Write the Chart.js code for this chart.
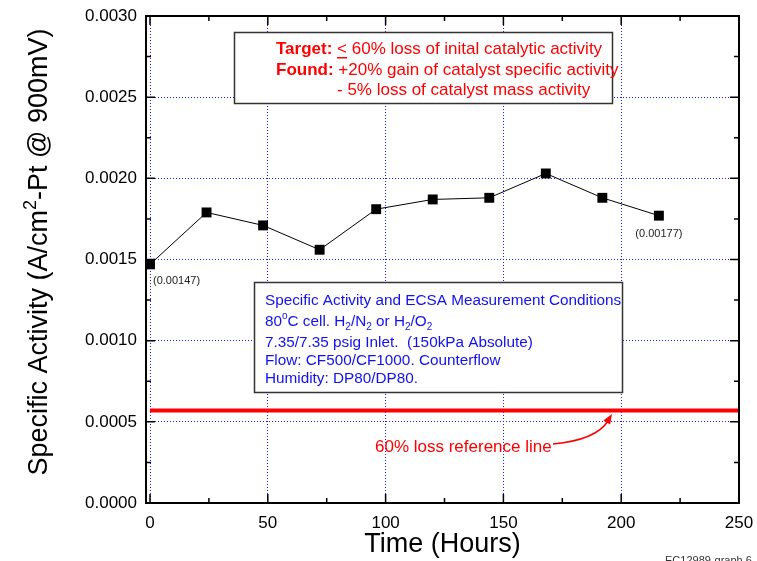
<!DOCTYPE html>
<html>
<head>
<meta charset="utf-8">
<script src="https://cdn.jsdelivr.net/npm/chart.js@4.4.0/dist/chart.umd.min.js"></script>
<style>
body { margin: 0; background: #fff; }
</style>
</head>
<body>
<canvas id="chartActivity" width="757" height="561"></canvas>
<script>
var hours = [0, 24, 48, 72, 96, 120, 144, 168, 192, 216];
var activity = [0.00147, 0.00179, 0.00171, 0.00156, 0.00181, 0.00187, 0.00188, 0.00203, 0.00188, 0.00177];
var refHours = [0, 250];
var refLevel = 0.00057;
var xTicks = [0, 50, 100, 150, 200, 250];
var yTicks = [0, 0.0005, 0.0010, 0.0015, 0.0020, 0.0025, 0.0030];
var labelIndex = [0, 9];
var labelText = ['(0.00147)', '(0.00177)'];

var FONT = '"Liberation Sans", Arial, Helvetica, sans-serif';
Chart.defaults.font.family = FONT;
Chart.defaults.color = '#000';

function font(size, bold) {
    return (bold ? 'bold ' : '') + size + 'px ' + FONT;
}

// draws a line of text made of several runs (bold, sub/superscript, underline)
function drawRuns(ctx, x, y, parts, size) {
    parts.forEach(function (p) {
        if (typeof p === 'string') p = { t: p };
        ctx.font = font(p.size || size, p.bold);
        var w = ctx.measureText(p.t).width;
        ctx.fillText(p.t, x, y + (p.dy || 0));
        if (p.u) {
            ctx.fillRect(x, y + 8, w, 1.5);
        }
        x += w;
    });
    return x;
}

function runsWidth(ctx, parts, size) {
    var w = 0;
    parts.forEach(function (p) {
        if (typeof p === 'string') p = { t: p };
        ctx.font = font(p.size || size, p.bold);
        w += ctx.measureText(p.t).width;
    });
    return w;
}

// box frame and inward ticks on all four sides
var framePlugin = {
    id: 'frame',
    afterDatasetsDraw: function (chart) {
        var ctx = chart.ctx, a = chart.chartArea;
        var sx = chart.scales.x, sy = chart.scales.y;
        ctx.save();
        ctx.strokeStyle = '#000';
        ctx.lineWidth = 2;
        ctx.strokeRect(a.left, a.top, a.right - a.left, a.bottom - a.top);
        ctx.lineWidth = 1.5;
        ctx.beginPath();
        xTicks.forEach(function (v, i) {
            var px = sx.getPixelForValue(v);
            ctx.moveTo(px, a.bottom); ctx.lineTo(px, a.bottom - 9);
            ctx.moveTo(px, a.top); ctx.lineTo(px, a.top + 9);
            if (i < xTicks.length - 1) {
                var mx = sx.getPixelForValue((v + xTicks[i + 1]) / 2);
                ctx.moveTo(mx, a.bottom); ctx.lineTo(mx, a.bottom - 5);
                ctx.moveTo(mx, a.top); ctx.lineTo(mx, a.top + 5);
            }
        });
        yTicks.forEach(function (v, i) {
            var py = sy.getPixelForValue(v);
            ctx.moveTo(a.left, py); ctx.lineTo(a.left + 9, py);
            ctx.moveTo(a.right, py); ctx.lineTo(a.right - 9, py);
            if (i < yTicks.length - 1) {
                var my = sy.getPixelForValue((v + yTicks[i + 1]) / 2);
                ctx.moveTo(a.left, my); ctx.lineTo(a.left + 5, my);
                ctx.moveTo(a.right, my); ctx.lineTo(a.right - 5, my);
            }
        });
        ctx.stroke();
        ctx.restore();
    }
};

// text boxes, point labels, arrow, y title and footnote
var notesPlugin = {
    id: 'notes',
    afterDraw: function (chart) {
        var ctx = chart.ctx;
        ctx.save();
        ctx.textBaseline = 'middle';
        ctx.textAlign = 'left';

        // y axis title, rotated, with superscript
        var yTitle = ['Specific Activity (A/cm', { t: '2', size: 18, dy: -9 }, '-Pt @ 900mV)'];
        ctx.save();
        ctx.translate(40, 252);
        ctx.rotate(-Math.PI / 2);
        ctx.fillStyle = '#000';
        drawRuns(ctx, -runsWidth(ctx, yTitle, 27) / 2, 0, yTitle, 27);
        ctx.restore();

        // point value labels
        var meta = chart.getDatasetMeta(0);
        ctx.fillStyle = '#222';
        ctx.font = font(11);
        labelIndex.forEach(function (idx, k) {
            var pt = meta.data[idx];
            if (k === 0) {
                ctx.textAlign = 'left';
                ctx.fillText(labelText[k], pt.x + 3, pt.y + 17);
            } else {
                ctx.textAlign = 'center';
                ctx.fillText(labelText[k], pt.x, pt.y + 18);
            }
        });
        ctx.textAlign = 'left';

        // target / found box
        ctx.fillStyle = '#fff';
        ctx.fillRect(234.5, 32.5, 378, 71);
        ctx.strokeStyle = '#333';
        ctx.lineWidth = 1.5;
        ctx.strokeRect(234.5, 32.5, 378, 71);
        ctx.fillStyle = '#ff0000';
        drawRuns(ctx, 276, 49, [{ t: 'Target:', bold: true }, ' ', { t: '<', u: true }, ' 60% loss of inital catalytic activity'], 17);
        drawRuns(ctx, 276, 70, [{ t: 'Found:', bold: true }, ' +20% gain of catalyst specific activity'], 17);
        drawRuns(ctx, 337, 90, ['- 5% loss of catalyst mass activity'], 17);

        // measurement conditions box
        ctx.fillStyle = '#fff';
        ctx.fillRect(254.5, 282.5, 368, 110);
        ctx.strokeStyle = '#333';
        ctx.strokeRect(254.5, 282.5, 368, 110);
        ctx.fillStyle = '#1010f0';
        drawRuns(ctx, 265, 301, ['Specific Activity and ECSA Measurement Conditions'], 15.3);
        drawRuns(ctx, 265, 322, ['80', { t: 'o', size: 10, dy: -6 }, 'C cell. H', { t: '2', size: 10, dy: 5 }, '/N', { t: '2', size: 10, dy: 5 },
            ' or H', { t: '2', size: 10, dy: 5 }, '/O', { t: '2', size: 10, dy: 5 }], 15.3);
        drawRuns(ctx, 265, 343, ['7.35/7.35 psig Inlet.  (150kPa Absolute)'], 15.3);
        drawRuns(ctx, 265, 361, ['Flow: CF500/CF1000. Counterflow'], 15.3);
        drawRuns(ctx, 265, 379, ['Humidity: DP80/DP80.'], 15.3);

        // reference line note with curved arrow
        ctx.fillStyle = '#ff0000';
        ctx.font = font(17);
        ctx.fillText('60% loss reference line', 375, 447);
        ctx.strokeStyle = '#ff0000';
        ctx.lineWidth = 1.5;
        ctx.beginPath();
        ctx.moveTo(553, 444);
        ctx.quadraticCurveTo(596, 440, 608, 421);
        ctx.stroke();
        var tipX = 612, tipY = 414;
        var ang = Math.atan2(-21, 13);
        ctx.beginPath();
        ctx.moveTo(tipX, tipY);
        ctx.lineTo(tipX - 10 * Math.cos(ang) + 4 * Math.sin(ang), tipY - 10 * Math.sin(ang) - 4 * Math.cos(ang));
        ctx.lineTo(tipX - 10 * Math.cos(ang) - 4 * Math.sin(ang), tipY - 10 * Math.sin(ang) + 4 * Math.cos(ang));
        ctx.closePath();
        ctx.fill();

        // footnote
        ctx.fillStyle = '#333';
        ctx.font = font(11);
        ctx.textBaseline = 'alphabetic';
        ctx.fillText('EC12989-graph 6', 665, 564);
        ctx.restore();
    }
};

var chartActivity = new Chart(document.getElementById('chartActivity'), {
    type: 'line',
    data: {
        datasets: [{
            label: 'Specific Activity',
            data: hours.map(function (h, i) { return { x: h, y: activity[i] }; }),
            borderColor: '#000',
            borderWidth: 1,
            backgroundColor: '#000',
            pointStyle: 'rect',
            pointRadius: 7,
            pointBorderWidth: 0,
            tension: 0
        }, {
            label: '60% loss reference line',
            data: refHours.map(function (h) { return { x: h, y: refLevel }; }),
            borderColor: '#ff0000',
            borderWidth: 4,
            pointRadius: 0,
            tension: 0
        }]
    },
    options: {
        responsive: false,
        animation: false,
        layout: {
            autoPadding: false,
            padding: { left: 0, right: 18, top: 16, bottom: 0 }
        },
        plugins: {
            legend: { display: false },
            tooltip: { enabled: false }
        },
        scales: {
            x: {
                type: 'linear',
                min: -1.7,
                max: 250,
                afterBuildTicks: function (scale) {
                    scale.ticks = xTicks.map(function (v) { return { value: v }; });
                },
                afterFit: function (scale) {
                    scale.height = 58;
                    scale.paddingLeft = 0;
                    scale.paddingRight = 0;
                },
                ticks: {
                    font: { size: 17 },
                    padding: 10,
                    maxRotation: 0,
                    callback: function (v) { return String(v); }
                },
                grid: { color: '#1a1aff', lineWidth: 1, drawTicks: false },
                border: { display: false, dash: [1, 2] },
                title: {
                    display: true,
                    text: 'Time (Hours)',
                    font: { size: 27 },
                    padding: { top: 0, bottom: 0 }
                }
            },
            y: {
                min: 0,
                max: 0.003,
                afterBuildTicks: function (scale) {
                    scale.ticks = yTicks.map(function (v) { return { value: v }; });
                },
                afterFit: function (scale) {
                    scale.width = 146;
                    scale.paddingTop = 0;
                    scale.paddingBottom = 0;
                },
                ticks: {
                    font: { size: 17 },
                    padding: 9,
                    callback: function (v) { return v.toFixed(4); }
                },
                grid: { color: '#1a1aff', lineWidth: 1, drawTicks: false },
                border: { display: false, dash: [1, 2] },
                title: { display: false }
            }
        }
    },
    plugins: [framePlugin, notesPlugin]
});
</script>
</body>
</html>
